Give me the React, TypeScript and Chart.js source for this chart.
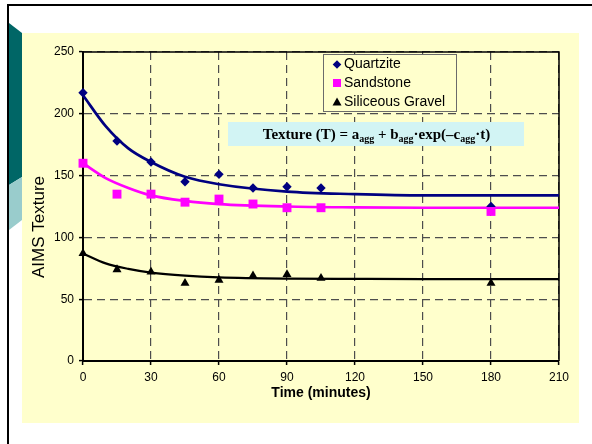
import React, { useEffect, useRef } from 'react';
import { Chart, registerables } from 'chart.js';

Chart.register(...registerables);

// Measured samples (minutes)
const SAMPLE_TIMES = [0, 15, 30, 45, 60, 75, 90, 105, 180];
const QUARTZITE = [217, 178, 161, 145, 151, 140, 141, 140, 125];
const SANDSTONE = [160, 135, 135, 128.5, 131, 127, 124, 124, 121];
const GRAVEL = [87, 74, 72, 63, 65.5, 69, 70, 67, 63];

// Fitted curves
const FIT_TIMES = [0, 10, 20, 30, 45, 60, 90, 120, 150, 180, 210];
const QUARTZITE_FIT = [215, 190, 172, 161, 149, 143, 137, 135, 134, 134, 134];
const SANDSTONE_FIT = [160, 148, 140, 134, 129.5, 127, 125, 124.3, 124, 124, 124];
const GRAVEL_FIT = [87, 79, 74.5, 71.5, 69, 67.6, 66.6, 66.4, 66.3, 66.3, 66.3];

const SERIES_NAMES = ['Quartzite', 'Sandstone', 'Siliceous Gravel'];
const SERIES_COLORS = ['#000080', '#ff00ff', '#000000'];
const X_TICKS = [0, 30, 60, 90, 120, 150, 180, 210];
const Y_TICKS = [0, 50, 100, 150, 200, 250];
const X_TITLE = 'Time (minutes)';
const Y_TITLE = 'AIMS Texture';

const SANS = '"Liberation Sans", Arial, sans-serif';
const SERIF = '"Liberation Serif", "Times New Roman", serif';

const pts = (xs: number[], ys: number[]) => xs.map((x, i) => ({ x, y: ys[i] }));

function drawMarker(ctx: CanvasRenderingContext2D, kind: number, x: number, y: number, s: number, color: string) {
  ctx.fillStyle = color;
  ctx.beginPath();
  if (kind === 0) {
    ctx.moveTo(x, y - s);
    ctx.lineTo(x + s, y);
    ctx.lineTo(x, y + s);
    ctx.lineTo(x - s, y);
  } else if (kind === 1) {
    ctx.rect(x - s, y - s, 2 * s, 2 * s);
  } else {
    ctx.moveTo(x, y - s);
    ctx.lineTo(x + s, y + s * 0.8);
    ctx.lineTo(x - s, y + s * 0.8);
  }
  ctx.closePath();
  ctx.fill();
}

const decorPlugin = {
  id: 'decor',
  beforeDraw(chart: any) {
    const ctx = chart.ctx as CanvasRenderingContext2D;
    ctx.save();
    ctx.fillStyle = '#ffffff';
    ctx.fillRect(0, 0, chart.width, chart.height);
    // yellow panel
    ctx.fillStyle = '#ffffcc';
    ctx.fillRect(22, 33, 557, 390);
    // teal decorations
    ctx.fillStyle = '#006666';
    ctx.beginPath();
    ctx.moveTo(9, 23);
    ctx.lineTo(22, 33);
    ctx.lineTo(22, 177);
    ctx.lineTo(9, 185);
    ctx.closePath();
    ctx.fill();
    ctx.fillStyle = '#99cccc';
    ctx.beginPath();
    ctx.moveTo(9, 185);
    ctx.lineTo(22, 177);
    ctx.lineTo(22, 220);
    ctx.lineTo(9, 230);
    ctx.closePath();
    ctx.fill();
    // outer frame
    ctx.strokeStyle = '#000';
    ctx.lineWidth = 2;
    ctx.beginPath();
    ctx.moveTo(592, 5);
    ctx.lineTo(8, 5);
    ctx.lineTo(8, 444);
    ctx.stroke();
    ctx.restore();
  },
  beforeDatasetsDraw(chart: any) {
    const ctx = chart.ctx as CanvasRenderingContext2D;
    const a = chart.chartArea;
    ctx.save();
    ctx.strokeStyle = '#000';
    ctx.lineWidth = 1.5;
    ctx.beginPath();
    ctx.moveTo(a.left, a.top);
    ctx.lineTo(a.right, a.top);
    ctx.lineTo(a.right, a.bottom);
    ctx.stroke();
    ctx.restore();
  },
  afterDraw(chart: any) {
    const ctx = chart.ctx as CanvasRenderingContext2D;
    ctx.save();
    // y title
    ctx.translate(39, 227);
    ctx.rotate(-Math.PI / 2);
    ctx.font = '17px ' + SANS;
    ctx.fillStyle = '#000';
    ctx.textAlign = 'center';
    ctx.textBaseline = 'middle';
    ctx.fillText(Y_TITLE, 0, 0);
    ctx.restore();

    // legend
    ctx.save();
    ctx.fillStyle = '#ffffcc';
    ctx.fillRect(323, 54, 133, 57);
    ctx.strokeStyle = '#6b6b6b';
    ctx.lineWidth = 1;
    ctx.strokeRect(323.5, 54.5, 133, 57);
    ctx.font = '14px ' + SANS;
    ctx.textBaseline = 'middle';
    ctx.textAlign = 'left';
    const rows = [64.5, 83, 102];
    const sizes = [4.3, 4, 4.5];
    SERIES_NAMES.forEach((name, i) => {
      drawMarker(ctx, i, 337, rows[i], sizes[i], SERIES_COLORS[i]);
      ctx.fillStyle = '#000';
      ctx.fillText(name, 344, rows[i]);
    });
    ctx.restore();

    // formula box
    ctx.save();
    ctx.fillStyle = '#d2f4f4';
    ctx.fillRect(228, 122, 296, 24);
    const parts: [string, boolean][] = [
      ['Texture (T) = a', false],
      ['agg', true],
      [' + b', false],
      ['agg', true],
      ['\u00b7exp(\u2013c', false],
      ['agg', true],
      ['\u00b7t)', false],
    ];
    const big = 'bold 15px ' + SERIF;
    const small = 'bold 10px ' + SERIF;
    let total = 0;
    parts.forEach(([t, sub]) => {
      ctx.font = sub ? small : big;
      total += ctx.measureText(t).width;
    });
    let x = 376.5 - total / 2;
    ctx.fillStyle = '#000';
    ctx.textBaseline = 'alphabetic';
    ctx.textAlign = 'left';
    parts.forEach(([t, sub]) => {
      ctx.font = sub ? small : big;
      ctx.fillText(t, x, sub ? 142 : 139);
      x += ctx.measureText(t).width;
    });
    ctx.restore();
  },
};

export default function App() {
  const ref = useRef<HTMLCanvasElement | null>(null);
  useEffect(() => {
    if (!ref.current) return;
    const markerStyles = ['rectRot', 'rect', 'triangle'];
    const markerRadius = [4.7, 6.3, 5.2];
    const sampleSeries = [QUARTZITE, SANDSTONE, GRAVEL];
    const fitSeries = [QUARTZITE_FIT, SANDSTONE_FIT, GRAVEL_FIT];
    const order = [1, 0, 2];
    const markerSets = order.map((i) => ({
      type: 'scatter' as const,
      label: SERIES_NAMES[i],
      data: pts(SAMPLE_TIMES, sampleSeries[i]),
      pointStyle: markerStyles[i],
      pointRadius: markerRadius[i],
      pointBackgroundColor: SERIES_COLORS[i],
      pointBorderColor: SERIES_COLORS[i],
      pointBorderWidth: 0,
      showLine: false,
      clip: false,
    }));
    const fitWidths = [2.7, 2.7, 2.2];
    const fitSets = [0, 1, 2].map((i) => ({
      type: 'line' as const,
      label: SERIES_NAMES[i] + ' fit',
      data: pts(FIT_TIMES, fitSeries[i]),
      borderColor: SERIES_COLORS[i],
      borderWidth: fitWidths[i],
      pointRadius: 0,
      fill: false,
      clip: false,
      cubicInterpolationMode: 'monotone' as const,
    }));
    const chart = new Chart(ref.current, {
      type: 'scatter',
      data: { datasets: [...markerSets, ...fitSets] as any },
      plugins: [decorPlugin],
      options: {
        animation: false,
        responsive: false,
        devicePixelRatio: 1,
        layout: { padding: { left: 22, top: 52, right: 33, bottom: 42 } },
        plugins: { legend: { display: false }, tooltip: { enabled: false } },
        scales: {
          x: {
            type: 'linear',
            min: 0,
            max: 210,
            afterBuildTicks: (s: any) => {
              s.ticks = X_TICKS.map((v) => ({ value: v }));
            },
            afterFit: (s: any) => {
              s.height = 41;
            },
            ticks: { color: '#000', font: { family: SANS, size: 12 }, padding: 5, maxRotation: 0 },
            grid: {
              color: '#4d4d4d',
              lineWidth: 1.2,
              tickColor: '#000',
              tickLength: 4,
              tickWidth: 1.5,
            },
            border: { display: true, color: '#000', width: 2, dash: [8, 5] },
            title: {
              display: true,
              text: X_TITLE,
              color: '#000',
              font: { family: SANS, size: 14, weight: 'bold' },
              padding: 0,
            },
          },
          y: {
            type: 'linear',
            min: 0,
            max: 250,
            afterBuildTicks: (s: any) => {
              s.ticks = Y_TICKS.map((v) => ({ value: v }));
            },
            afterFit: (s: any) => {
              s.width = 61;
            },
            ticks: { color: '#000', font: { family: SANS, size: 12 }, padding: 5 },
            grid: {
              color: '#4d4d4d',
              lineWidth: 1.2,
              tickColor: '#000',
              tickLength: 4,
              tickWidth: 1.5,
            },
            border: { display: true, color: '#000', width: 2, dash: [8, 5] },
          },
        },
      } as any,
    });
    return () => chart.destroy();
  }, []);
  return (
    <div style={{ position: 'fixed', left: 0, top: 0, width: 592, height: 444 }}>
      <canvas ref={ref} width={592} height={444} style={{ display: 'block', width: 592, height: 444 }} />
    </div>
  );
}
